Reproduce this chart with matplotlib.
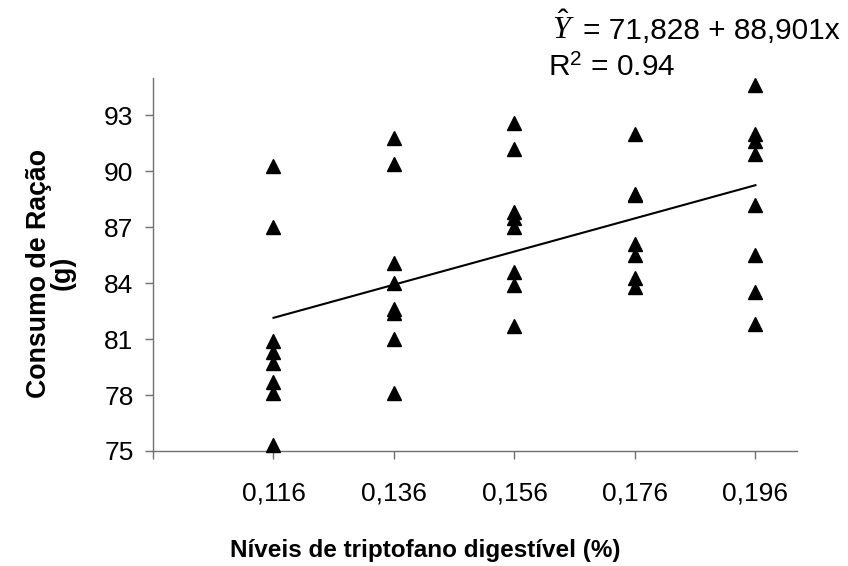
import matplotlib.pyplot as plt

plt.rcParams['font.family'] = ['Liberation Sans', 'DejaVu Sans']
plt.rcParams['mathtext.fontset'] = 'custom'
plt.rcParams['mathtext.rm'] = 'Liberation Sans'
plt.rcParams['mathtext.it'] = 'Liberation Serif:italic'

# data
levels = [0.116, 0.136, 0.156, 0.176, 0.196]
consumo = [
    [90.3, 87.0, 80.9, 80.3, 79.7, 78.7, 78.1, 75.3],
    [91.8, 90.4, 85.1, 84.0, 82.6, 82.4, 81.0, 78.1],
    [92.6, 91.2, 87.8, 87.5, 87.0, 84.6, 83.9, 81.7],
    [92.0, 88.8, 88.7, 86.1, 85.5, 84.3, 83.8],
    [94.6, 92.0, 91.6, 90.9, 88.2, 85.5, 83.5, 81.8],
]
tick_labels = ['0,116', '0,136', '0,156', '0,176', '0,196']
y_ticks = [75, 78, 81, 84, 87, 90, 93]
intercept = 71.828
slope = 88.901

fig = plt.figure(figsize=(8.48, 5.66), dpi=100)
ax = fig.add_axes([153/848, 1 - 451/566, (797 - 153)/848, (451 - 78)/566])

for lv, vals in zip(levels, consumo):
    ax.plot([lv] * len(vals), vals, linestyle='none', marker='^',
            color='black', markersize=10, clip_on=False, zorder=3)

xl = [levels[0], levels[-1]]
ax.plot(xl, [intercept + slope * v for v in xl], color='black', lw=1.5, zorder=2)

ax.set_xlim(0.096, 0.2029)
ax.set_ylim(75, 95)
ax.set_xticks([0.096] + levels)
ax.set_xticklabels([''] + tick_labels)
ax.set_yticks(y_ticks)
ax.tick_params(axis='both', labelsize=19, length=6, width=1, color='#707070',
               direction='out')
ax.tick_params(axis='x', pad=16)
ax.tick_params(axis='y', pad=8)

for s in ['top', 'right']:
    ax.spines[s].set_visible(False)
for s in ['left', 'bottom']:
    ax.spines[s].set_color('#707070')
    ax.spines[s].set_linewidth(1)

fig.text(425/848, 1 - 550/566, 'Níveis de triptofano digestível (%)',
         fontsize=17.5, fontweight='bold', ha='center', va='center')
fig.text(51/848, 1 - 273/566, 'Consumo de Ração\n(g)', fontsize=19.3,
         fontweight='bold', rotation=90, ha='center', va='center',
         multialignment='center', linespacing=0.9)

fig.text(552/848, 1 - 39/566, r'$\hat{Y}$', fontsize=23, ha='left', va='baseline')
fig.text(583/848, 1 - 39/566, '= 71,828 + 88,901x', fontsize=21.5,
         ha='left', va='baseline')
fig.text(548/848, 1 - 76/566, r'R$^2$ = 0.94', fontsize=21.5,
         ha='left', va='baseline')

fig.savefig('out.png', dpi=100)
